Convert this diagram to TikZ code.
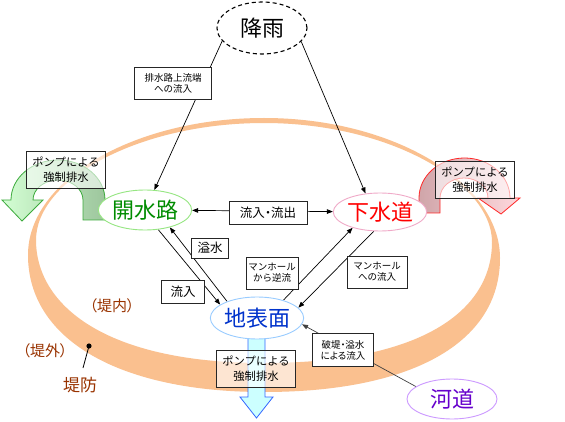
\documentclass[tikz,border=0pt]{standalone}
\usepackage{fontspec}
\setmainfont{Noto Sans CJK JP}
\newfontfamily\jpprop{Noto Sans CJK JP}[RawFeature=+palt]
\usetikzlibrary{shapes.geometric,arrows.meta}
\definecolor{ringc}{RGB}{250,192,143}
\definecolor{kgreen}{RGB}{0,140,0}
\definecolor{kgreenb}{RGB}{150,230,130}
\definecolor{gred}{RGB}{255,0,0}
\definecolor{gredb}{RGB}{240,170,200}
\definecolor{cblue}{RGB}{0,51,204}
\definecolor{cblueb}{RGB}{153,204,255}
\definecolor{kpurple}{RGB}{102,0,204}
\definecolor{kpurpleb}{RGB}{204,153,255}
\definecolor{brownt}{RGB}{153,51,0}
\definecolor{garrowd}{RGB}{140,188,140}
\definecolor{garrowl}{RGB}{204,255,204}
\definecolor{garrowb}{RGB}{60,170,60}
\definecolor{rarrowd}{RGB}{200,150,155}
\definecolor{rarrowl}{RGB}{255,210,215}
\definecolor{rarrowb}{RGB}{255,40,40}
\definecolor{barrowf}{RGB}{204,255,255}
\definecolor{barrowb}{RGB}{51,102,255}
\pgfdeclarelayer{ringlayer}
\pgfdeclarelayer{linelayer}
\pgfsetlayers{ringlayer,linelayer,main}
\begin{document}
\begin{tikzpicture}[x=1pt,y=-1pt,
  bigell/.style={ellipse, inner sep=0pt, fill=white, line width=0.9pt, font=\fontsize{22}{24}\selectfont},
  lbl/.style={draw=black!85, fill=white, line width=0.8pt, inner sep=0pt, align=center},
  pumpbox/.style={lbl, fill opacity=0.6, text opacity=1, draw opacity=1, minimum width=79pt, minimum height=37pt, font=\fontsize{11.3}{15}\selectfont},
  smalltxt/.style={font=\fontsize{9.5}{11}\selectfont},
  arr/.style={-{Triangle[length=6pt,width=4.5pt]}, line width=0.7pt, black},
  darr/.style={{Triangle[length=6pt,width=4.5pt]}-{Triangle[length=6pt,width=4.5pt]}, line width=0.7pt, black},
  brownlbl/.style={text=brownt, inner sep=0pt}
]
\useasboundingbox (0,0) rectangle (565,422);
\begin{pgfonlayer}{ringlayer}
\fill[white] (0,0) rectangle (565,422);
\fill[ringc,even odd rule]
  (264,118) .. controls (394,118) and (500,183) .. (500,258)
  .. controls (500,345) and (408,392) .. (264,392)
  .. controls (120,392) and (28,340) .. (28,255)
  .. controls (28,180) and (134,118) .. (264,118) -- cycle
  (264,123) .. controls (390,123) and (492,183) .. (492,242)
  .. controls (492,310) and (423,363) .. (264,363)
  .. controls (105,363) and (36,305) .. (36,240)
  .. controls (36,180) and (138,123) .. (264,123) -- cycle;
\end{pgfonlayer}

% pump arrows
\draw[garrowb, line width=0.8pt, left color=garrowl, right color=garrowd, fill opacity=0.85]
  (105,220) -- (105,200) arc[start angle=0,end angle=180,x radius=47pt,y radius=40pt]
  -- (2,200) -- (22,221) -- (43,200) -- (33,200)
  arc[start angle=180,end angle=0,x radius=25pt,y radius=20pt] -- (83,220) -- cycle;
\draw[rarrowb, line width=0.8pt, left color=rarrowd, right color=rarrowl, fill opacity=0.85]
  (419,213) -- (419,198) arc[start angle=180,end angle=0,x radius=45.5pt,y radius=40pt]
  -- (520,198) -- (501,214) -- (478,198) -- (488,198)
  arc[start angle=0,end angle=180,x radius=24pt,y radius=20pt] -- (440,213) -- cycle;
\draw[barrowb, line width=0.8pt, fill=barrowf]
  (248,330) -- (248,397) -- (240,397) -- (256.5,418) -- (273,397) -- (265,397) -- (265,330) -- cycle;

% main ellipses
\node[bigell, draw=black, dashed, dash pattern=on 4pt off 3pt, line width=1.1pt,
      minimum width=90pt, minimum height=52pt] (rain) at (262,28) {降雨};
\node[bigell, draw=kgreenb, text=kgreen, minimum width=86pt, minimum height=40pt] (kaisui) at (145,210) {開水路};
\node[bigell, draw=gredb, text=gred, minimum width=90pt, minimum height=38pt] (gesui) at (380,212) {下水道};
\node[bigell, draw=cblueb, text=cblue, minimum width=86pt, minimum height=42pt] (chihyo) at (257,318) {地表面};
\node[bigell, draw=kpurpleb, text=kpurple, minimum width=90pt, minimum height=40pt] (kado) at (452,399) {河道};

% label boxes
\node[lbl, smalltxt, minimum width=77pt, minimum height=32pt] (b1) at (173,83) {排水路上流端\\への流入};
\node[lbl, font=\jpprop\fontsize{12.5}{14}\selectfont, minimum width=78pt, minimum height=23pt] (b2) at (268,213) {流入・流出};
\node[lbl, font=\fontsize{12.5}{14}\selectfont, minimum width=37pt, minimum height=20pt] (b3) at (210,248) {溢水};
\node[lbl, font=\fontsize{12.5}{14}\selectfont, minimum width=43pt, minimum height=23pt] (b4) at (183,292) {流入};
\node[lbl, smalltxt, minimum width=52pt, minimum height=32pt] (b5) at (272,273) {マンホール\\から逆流};
\node[lbl, smalltxt, minimum width=60pt, minimum height=32pt] (b6) at (377,272) {マンホール\\への流入};
\node[lbl, font=\jpprop\fontsize{9.5}{11}\selectfont, minimum width=61pt, minimum height=33pt] (b7) at (343,350) {破堤・溢水\\による流入};
\node[pumpbox] (p1) at (66,170) {ポンプによる\\強制排水};
\node[pumpbox] (p2) at (475,180) {ポンプによる\\強制排水};
\node[pumpbox] (p3) at (256,369) {ポンプによる\\強制排水};

% levee labels
\node[brownlbl, font=\jpprop\fontsize{15}{17}\selectfont] (naichi) at (112,306) {（堤内）};
\node[brownlbl, font=\jpprop\fontsize{15}{17}\selectfont] (gaichi) at (45,351) {（堤外）};
\node[brownlbl, font=\fontsize{17}{19}\selectfont] (teibo) at (80,385) {堤防};
\fill[black] (89,346) circle[radius=2.6pt];
\coordinate (dotp) at (89,346);
\coordinate (teiboend) at (83,368);

% connectors
\begin{pgfonlayer}{linelayer}
\draw[arr] (rain.198) -- (kaisui.65);
\draw[arr] (rain.-19) -- (gesui.128);
\draw[darr] (kaisui) -- (gesui);
\draw[arr] (chihyo.151) -- (kaisui.-35);
\draw[arr] (kaisui.-56) -- (chihyo.160);
\draw[arr] (chihyo.34) -- (gesui.210);
\draw[arr] (gesui.252) -- (chihyo.14);
\draw[arr, black!75] (kado.161) -- (chihyo.-8);
\draw[line width=0.8pt] (dotp) -- (teiboend);
\end{pgfonlayer}
\end{tikzpicture}
\end{document}
